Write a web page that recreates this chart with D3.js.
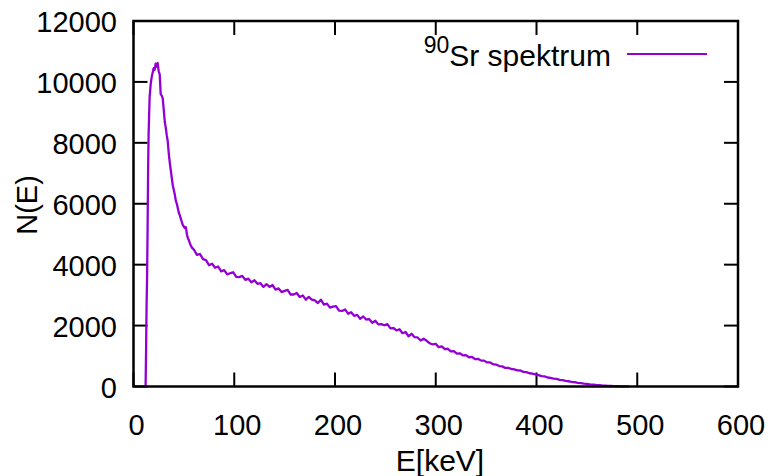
<!DOCTYPE html>
<html>
<head>
<meta charset="utf-8">
<script src="https://cdn.jsdelivr.net/npm/d3@7"></script>
<style>
  body { margin: 0; background: #fff; }
  text { font-family: "Liberation Sans", Arial, sans-serif; fill: #000; }
</style>
</head>
<body>
<svg width="777" height="476"></svg>
<script>
// spectrum: energy in keV, counts N(E)
var energy = [12, 12.5, 13, 13.5, 14, 14.5, 15, 16, 17, 18, 19, 20, 21, 22, 23, 24, 25, 26, 27, 28, 29,
  30, 31, 32, 33, 34, 35, 36, 37, 38, 39, 40, 41, 42, 43, 44, 45, 46, 47, 48, 49, 50, 51, 52, 53, 54,
  55, 56, 57, 58,
  60, 63, 66, 69, 72, 75, 78, 81, 84, 87, 90, 93, 96, 99, 102, 105, 108, 111, 114, 117, 120, 123,
  126, 129, 132, 135, 138, 141, 144, 147, 150, 153, 156, 159, 162, 165, 168, 171, 174, 177, 180,
  183, 186, 189, 192, 195, 198, 201, 204, 207, 210, 213, 216, 219, 222, 225, 228, 231, 234, 237,
  240, 243, 246, 249, 252, 255, 258, 261, 264, 267, 270, 273, 276, 279, 282, 285, 288, 291, 294,
  297, 300, 303, 306, 309, 312, 315, 318, 321, 324, 327, 330, 333, 336, 339, 342, 345, 348, 351,
  354, 357, 360, 363, 366, 369, 372, 375, 378, 381, 384, 387, 390, 393, 396, 399, 402, 405, 408,
  411, 414, 417, 420, 423, 426, 429, 432, 435, 438, 441, 444, 447, 450, 453, 456, 459, 462, 465,
  468, 471, 474, 477, 480, 483, 486, 489, 492];

var counts = [0, 1200, 2700, 3600, 5200, 7100, 8300, 9500, 9900, 10150, 10300, 10450, 10400, 10600,
  10500, 10620, 10350, 10250, 9600, 9550, 9460,
  9100, 8700, 8500, 8250, 8050, 7650, 7350, 7100, 6850, 6600, 6450, 6300, 6100, 6000, 5850, 5700,
  5620, 5500, 5400, 5300, 5250, 5200, 5230, 5000, 4870, 4800, 4700, 4620, 4560,
  4490, 4320, 4350, 4180, 4150, 3980, 4030, 3900, 3940, 3780, 3820, 3680, 3720, 3750, 3600, 3590,
  3630, 3500, 3540, 3420, 3490, 3370, 3390, 3270, 3360, 3270, 3330, 3180, 3220, 3100, 3140, 3170,
  3020, 3020, 3070, 2940, 2990, 2850, 2940, 2850, 2830, 2740, 2850, 2690, 2720, 2590, 2620, 2640,
  2490, 2480, 2530, 2390, 2440, 2320, 2350, 2220, 2300, 2200, 2210, 2090, 2160, 2040, 2050, 2010,
  2050, 1910, 1920, 1840, 1880, 1750, 1790, 1650, 1730, 1620, 1610, 1510, 1570, 1500, 1420, 1380,
  1400, 1290, 1320, 1230, 1240, 1150, 1160, 1080, 1090, 1020, 1030, 960, 970, 900, 910, 850, 850,
  790, 790, 730, 720, 670, 660, 610, 610, 575, 565, 530, 525, 480, 470, 435, 425, 395, 375, 340,
  330, 295, 285, 258, 248, 220, 210, 185, 172, 150, 140, 120, 110, 95, 85, 72, 62, 52, 45, 36, 30,
  22, 17, 12, 8, 5, 3, 1, 0];

var xTicks = [0, 100, 200, 300, 400, 500, 600];
var yTicks = [0, 2000, 4000, 6000, 8000, 10000, 12000];
var seriesName = "Sr spektrum";
var seriesIsotope = "90";

var svg = d3.select("svg"),
    plotL = 133.5, plotR = 738, plotT = 21, plotB = 386.5,
    tickLen = 14;

var x = d3.scaleLinear().domain([0, 600]).range([plotL, plotR]),
    y = d3.scaleLinear().domain([0, 12000]).range([plotB, plotT]);

var pts = energy.map(function(e, i) { return [e, counts[i]]; });

// ticks, mirrored on all four sides like gnuplot does
var g = svg.append("g").attr("stroke", "#000").attr("stroke-width", 2);
xTicks.forEach(function(t) {
    g.append("line").attr("x1", x(t)).attr("x2", x(t)).attr("y1", plotB).attr("y2", plotB - tickLen);
    g.append("line").attr("x1", x(t)).attr("x2", x(t)).attr("y1", plotT).attr("y2", plotT + tickLen);
});
yTicks.forEach(function(t) {
    g.append("line").attr("x1", plotL).attr("x2", plotL + tickLen).attr("y1", y(t)).attr("y2", y(t));
    g.append("line").attr("x1", plotR).attr("x2", plotR - tickLen).attr("y1", y(t)).attr("y2", y(t));
});

// tick labels
svg.selectAll(".xl").data(xTicks).enter().append("text")
    .attr("x", function(d) { return x(d) + 3; })
    .attr("y", 435)
    .attr("text-anchor", "middle")
    .attr("font-size", "29px")
    .text(function(d) { return d; });

svg.selectAll(".yl").data(yTicks).enter().append("text")
    .attr("x", 117)
    .attr("y", function(d) { return y(d) + 11; })
    .attr("text-anchor", "end")
    .attr("font-size", "29px")
    .text(function(d) { return d; });

// the spectrum
svg.append("path")
    .datum(pts)
    .attr("fill", "none")
    .attr("stroke", "#9400d3")
    .attr("stroke-width", 2.3)
    .attr("stroke-linejoin", "round")
    .attr("d", d3.line().x(function(d) { return x(d[0]); }).y(function(d) { return y(d[1]); }));

// frame
svg.append("rect")
    .attr("x", plotL).attr("y", plotT)
    .attr("width", plotR - plotL).attr("height", plotB - plotT)
    .attr("fill", "none").attr("stroke", "#000").attr("stroke-width", 2.5);

// axis titles
svg.append("text")
    .attr("x", 440).attr("y", 471)
    .attr("text-anchor", "middle")
    .attr("font-size", "30px")
    .text("E[keV]");

svg.append("text")
    .attr("transform", "translate(37,205) rotate(-90)")
    .attr("text-anchor", "middle")
    .attr("font-size", "29px")
    .text("N(E)");

// legend
var leg = svg.append("text")
    .attr("x", 611).attr("y", 66)
    .attr("text-anchor", "end")
    .attr("font-size", "30px");
leg.append("tspan").attr("font-size", "23px").attr("dy", -13).text(seriesIsotope);
leg.append("tspan").attr("dy", 13).text(seriesName);

svg.append("line")
    .attr("x1", 627).attr("x2", 707).attr("y1", 54).attr("y2", 54)
    .attr("stroke", "#9400d3").attr("stroke-width", 2);
</script>
</body>
</html>
